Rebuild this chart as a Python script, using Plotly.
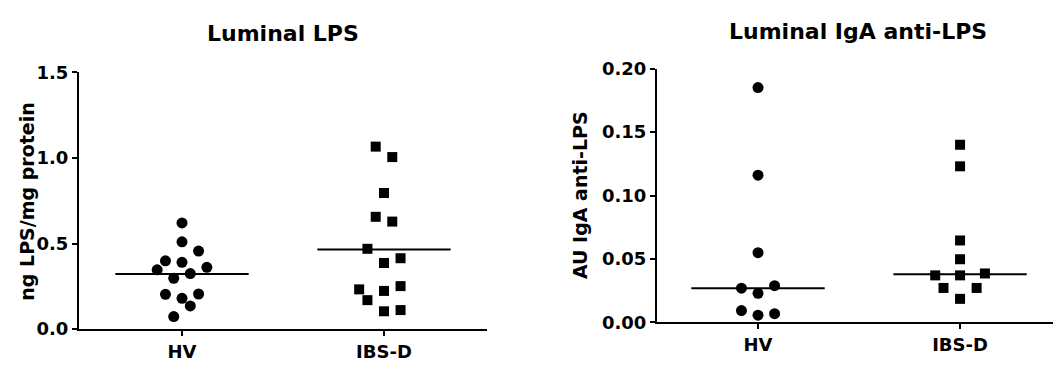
import plotly.graph_objects as go

# ---------------- data ----------------
categories = ["HV", "IBS-D"]

# Luminal LPS (ng LPS/mg protein)
lps_hv = [0.62, 0.51, 0.456, 0.399, 0.390, 0.346, 0.361, 0.324, 0.297, 0.203, 0.205, 0.180, 0.135, 0.073]
lps_hv_slot = [0, 0, 2, -2, 0, -3, 3, 1, -1, -2, 2, 0, 1, -1]
lps_ibs = [1.066, 1.005, 0.795, 0.656, 0.628, 0.469, 0.414, 0.386, 0.232, 0.223, 0.251, 0.169, 0.104, 0.111]
lps_ibs_slot = [-1, 1, 0, -1, 1, -2, 2, 0, -3, 0, 2, -2, 0, 2]
lps_median = [0.322, 0.465]

# Luminal IgA anti-LPS (AU)
iga_hv = [0.185, 0.116, 0.055, 0.027, 0.029, 0.023, 0.0094, 0.0057, 0.0069]
iga_hv_slot = [0, 0, 0, -2, 2, 0, -2, 0, 2]
iga_ibs = [0.140, 0.123, 0.0646, 0.0498, 0.0371, 0.0371, 0.0386, 0.0272, 0.0272, 0.0186]
iga_ibs_slot = [0, 0, 0, 0, -3, 0, 3, -2, 2, 0]
iga_median = [0.027, 0.038]

titles = ["Luminal LPS", "Luminal IgA anti-LPS"]
ytitles = ["ng LPS/mg protein", "AU IgA anti-LPS"]

# ---------------- style ----------------
W, H = 1053, 374
FONT = "DejaVu Sans"
SLOT = 0.041      # horizontal spacing of jittered points (category units)
HALF = 0.33       # half-width of median line

fig = go.Figure()

def add_panel(xa, ya, hv, hv_slot, ibs, ibs_slot, med):
    fig.add_trace(go.Scatter(
        x=[0 + s * SLOT for s in hv_slot], y=hv, mode="markers",
        marker=dict(symbol="circle", size=11, color="black"),
        xaxis=xa, yaxis=ya, showlegend=False, cliponaxis=False))
    fig.add_trace(go.Scatter(
        x=[1 + s * SLOT for s in ibs_slot], y=ibs, mode="markers",
        marker=dict(symbol="square", size=10, color="black"),
        xaxis=xa, yaxis=ya, showlegend=False, cliponaxis=False))
    for i, m in enumerate(med):
        fig.add_trace(go.Scatter(
            x=[i - HALF, i + HALF], y=[m, m], mode="lines",
            line=dict(color="black", width=2),
            xaxis=xa, yaxis=ya, showlegend=False, cliponaxis=False))

add_panel("x", "y", lps_hv, lps_hv_slot, lps_ibs, lps_ibs_slot, lps_median)
add_panel("x2", "y2", iga_hv, iga_hv_slot, iga_ibs, iga_ibs_slot, iga_median)

def px_x(p):
    return p / W

def px_y(p):
    return (H - p) / H

axis_common = dict(
    showline=True, linecolor="black", linewidth=2,
    ticks="outside", ticklen=5, tickwidth=2, tickcolor="black",
    showgrid=False, zeroline=False,
    tickfont=dict(family=FONT, size=18, color="black", weight="bold"),
)

fig.update_layout(
    width=W, height=H,
    margin=dict(l=0, r=0, t=0, b=0),
    plot_bgcolor="white", paper_bgcolor="white",
    font=dict(family=FONT, color="black"),
    xaxis=dict(domain=[px_x(79), px_x(487)], range=[-0.51, 1.51],
               tickvals=[0, 1], ticktext=categories, anchor="y", **axis_common),
    yaxis=dict(domain=[px_y(337), px_y(65)], range=[0, 1.5],
               tickvals=[0, 0.5, 1.0, 1.5], ticktext=["0.0", "0.5", "1.0", "1.5"],
               anchor="x", **axis_common),
    xaxis2=dict(domain=[px_x(657), 1.0], range=[-0.5, 1.46],
                tickvals=[0, 1], ticktext=categories, anchor="y2", **axis_common),
    yaxis2=dict(domain=[px_y(330), px_y(61)], range=[0, 0.2],
                tickvals=[0, 0.05, 0.10, 0.15, 0.20],
                ticktext=["0.00", "0.05", "0.10", "0.15", "0.20"],
                anchor="x2", **axis_common),
)

ann = []
ann.append(dict(text=titles[0], x=px_x(283), y=px_y(24), xref="paper", yref="paper",
                showarrow=False, xanchor="center", yanchor="middle",
                font=dict(family=FONT, size=22, color="black", weight="bold")))
ann.append(dict(text=titles[1], x=px_x(858), y=px_y(22), xref="paper", yref="paper",
                showarrow=False, xanchor="center", yanchor="middle",
                font=dict(family=FONT, size=22, color="black", weight="bold")))
ann.append(dict(text=ytitles[0], x=px_x(27), y=px_y(202), xref="paper", yref="paper",
                showarrow=False, xanchor="center", yanchor="middle", textangle=-90,
                font=dict(family=FONT, size=19, color="black", weight="bold")))
ann.append(dict(text=ytitles[1], x=px_x(580), y=px_y(195), xref="paper", yref="paper",
                showarrow=False, xanchor="center", yanchor="middle", textangle=-90,
                font=dict(family=FONT, size=19, color="black", weight="bold")))
fig.update_layout(annotations=ann)

fig.write_html("out.html")
